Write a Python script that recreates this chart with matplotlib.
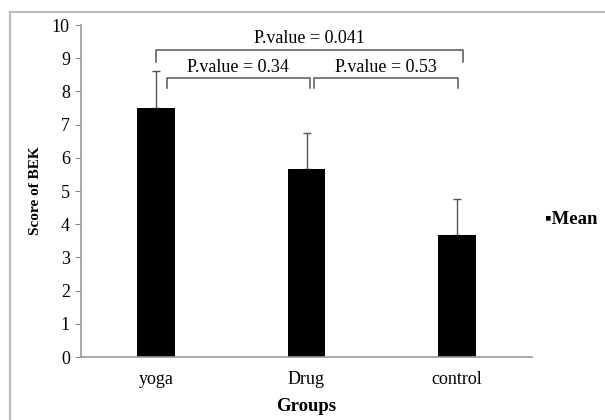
import matplotlib
matplotlib.use("Agg")
import matplotlib.pyplot as plt
from matplotlib.lines import Line2D

groups = ["yoga", "Drug", "control"]
means = [7.5, 5.65, 3.68]
errs = [1.1, 1.1, 1.07]
yticks = [0, 1, 2, 3, 4, 5, 6, 7, 8, 9, 10]
pvals = ["P.value = 0.041", "P.value = 0.34", "P.value = 0.53"]

plt.rcParams['font.family'] = ['Liberation Serif', 'DejaVu Serif']

fig = plt.figure(figsize=(6.05, 4.2), dpi=100)
ax = fig.add_axes([81/605, (420-357)/420, (532-81)/605, (357-25)/420])

x = [0, 1, 2]
ax.bar(x, means, width=0.25, color="black", zorder=2)
ax.errorbar(x, means, yerr=[[0, 0, 0], errs], fmt="none", ecolor="#555555",
            elinewidth=1.0, capsize=3, capthick=1.0, zorder=1)

ax.set_xlim(-0.5, 2.5)
ax.set_ylim(0, 10)
ax.set_yticks(yticks)
ax.set_xticks(x)
ax.set_xticklabels(groups, fontsize=13)
ax.tick_params(axis="y", labelsize=13, length=4, color="#888888", direction="out", pad=4)
ax.tick_params(axis="x", length=0, pad=10)
for s in ["top", "right"]:
    ax.spines[s].set_visible(False)
for s in ["left", "bottom"]:
    ax.spines[s].set_color("#999999")
    ax.spines[s].set_linewidth(1.2)

ax.set_ylabel("Score of BEK", fontsize=11, fontweight="bold", labelpad=7)
ax.set_xlabel("Groups", fontsize=13.5, fontweight="bold", labelpad=7)

# significance brackets
def bracket(x0, x1, ytop, ydrop, text, ty):
    ax.plot([x0, x0, x1, x1], [ydrop, ytop, ytop, ydrop], color="#555555",
            lw=1.1, clip_on=False, solid_joinstyle="round")
    ax.text((x0 + x1) / 2, ty, text, ha="center", va="center", fontsize=13)

bracket(0.0, 2.04, 9.25, 8.9, pvals[0], 9.6)
bracket(0.07, 1.02, 8.4, 8.1, pvals[1], 8.73)
bracket(1.05, 2.01, 8.4, 8.1, pvals[2], 8.73)

# legend
fig.text(545/605, 1 - 219/420, "\u25aaMean", fontsize=13.5, fontweight="bold",
         ha="left", va="center")

# frame border
fig.add_artist(Line2D([10/605, 10/605], [0, 1 - 12/420], transform=fig.transFigure,
                      color="#bbbbbb", lw=1.5))
fig.add_artist(Line2D([10/605, 1], [1 - 12/420, 1 - 12/420], transform=fig.transFigure,
                      color="#bbbbbb", lw=1.5))

fig.savefig("out.png", dpi=100)
